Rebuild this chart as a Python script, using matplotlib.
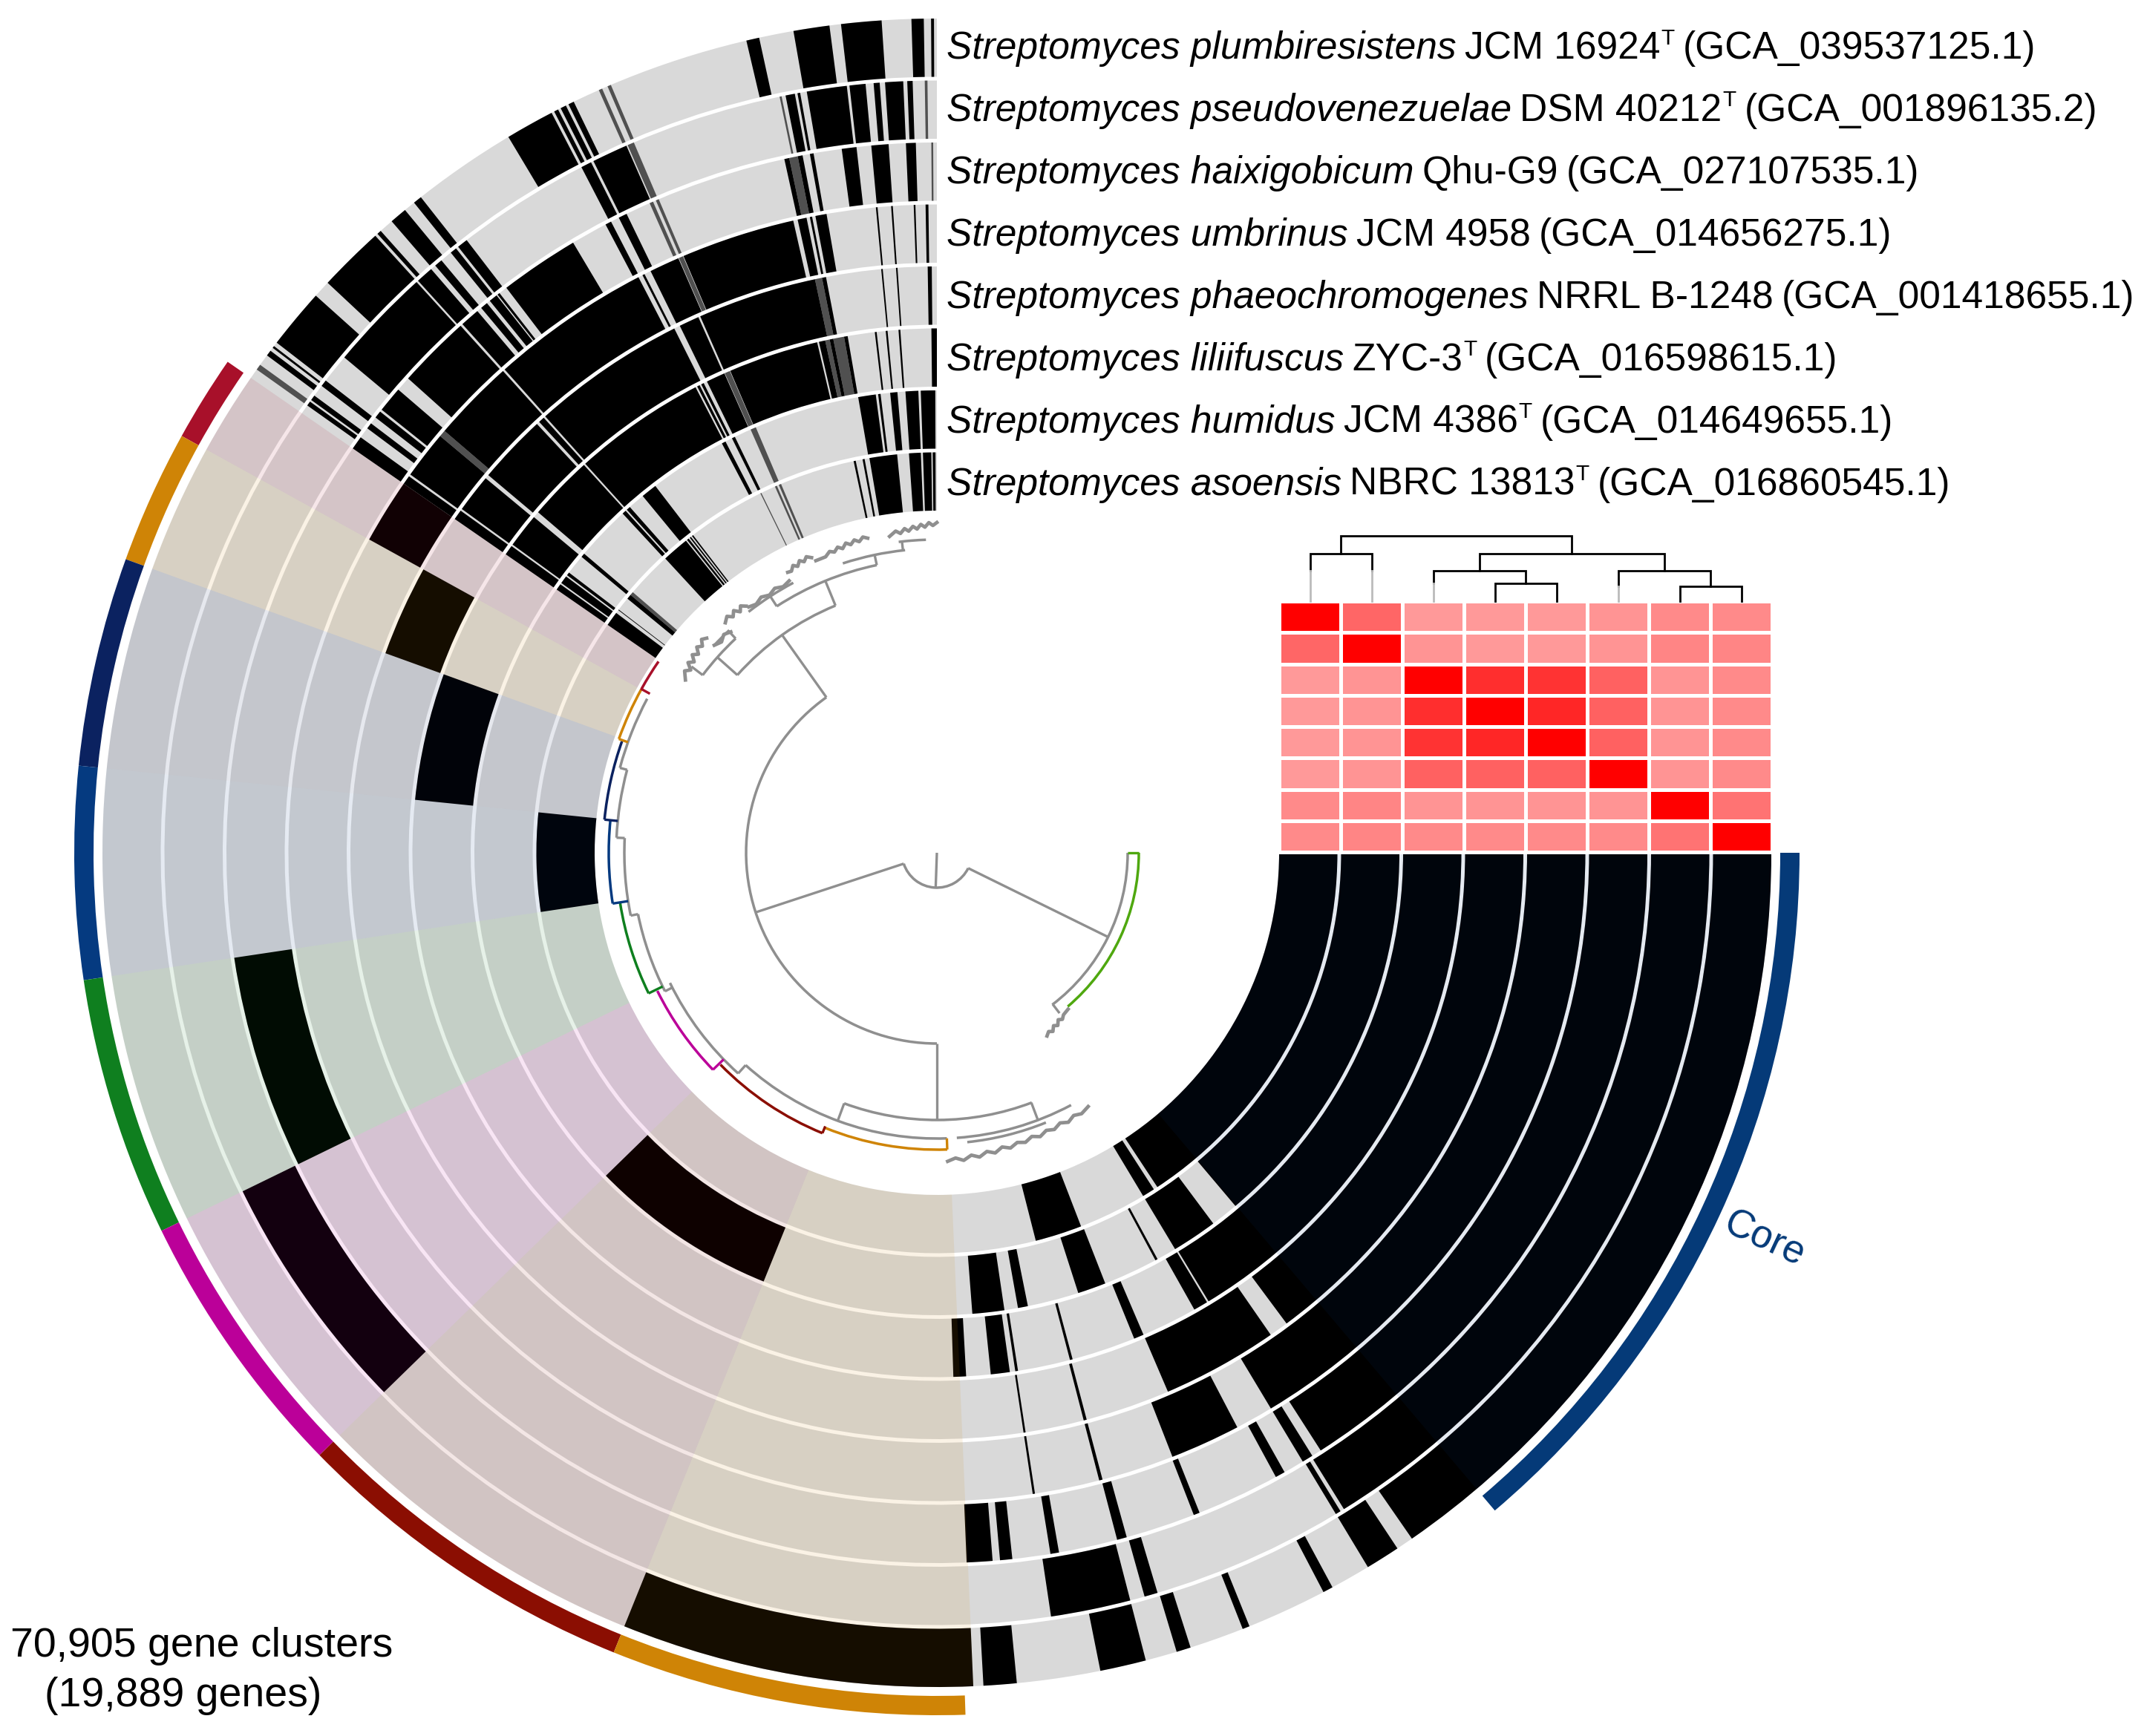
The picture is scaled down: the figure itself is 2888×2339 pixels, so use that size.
import numpy as np
import matplotlib
matplotlib.use('Agg')
import matplotlib.pyplot as plt
from matplotlib.colors import LinearSegmentedColormap

plt.rcParams['font.family'] = ['Liberation Sans', 'DejaVu Sans']

# genomes, outermost ring first: (italic name, strain, type strain?, accession)
genome_species = ['Streptomyces plumbiresistens', 'Streptomyces pseudovenezuelae', 'Streptomyces haixigobicum',
                  'Streptomyces umbrinus', 'Streptomyces phaeochromogenes', 'Streptomyces liliifuscus',
                  'Streptomyces humidus', 'Streptomyces asoensis']
genome_strain = ['JCM 16924', 'DSM 40212', 'Qhu-G9', 'JCM 4958', 'NRRL B-1248', 'ZYC-3', 'JCM 4386', 'NBRC 13813']
genome_type = [True, True, False, False, False, True, True, True]
genome_acc = ['GCA_039537125.1', 'GCA_001896135.2', 'GCA_027107535.1', 'GCA_014656275.1',
              'GCA_001418655.1', 'GCA_016598615.1', 'GCA_014649655.1', 'GCA_016860545.1']

# gene cluster presence per ring, read as angle ranges along the circle
ring0 = [(90.2, 90.4), (90.9, 91.75), (93.8, 96.6), (97.4, 99.9), (102.3, 103.2), (115.8, 116.2), (116.4, 116.8),
         (117, 117.3), (117.5, 120.9), (128.2, 128.8), (129.6, 130.8), (131.8, 132.1), (132.3, 136.9), (138.1, 142.3),
         (142.6, 142.75), (143, 143.4), (273.2, 275.5), (281.3, 284.5), (286.7, 287.7), (291.5, 292), (297.6, 298.3),
         (301.1, 303.5), (304.7, 360)]
ring1 = [(91.8, 92.2), (92.5, 93.85), (94.25, 94.7), (95.3, 96.5), (96.7, 99.7), (100.2, 100.4), (100.6, 101.3),
         (113.7, 116.4), (116.6, 117.4), (127.5, 128.3), (128.5, 129), (129.9, 130.5), (130.9, 132.2), (132.35, 140.1),
         (142.3, 142.8), (143.7, 144.1), (144.25, 144.6), (278.5, 284.5), (285.6, 286.6), (301.1, 301.5), (301.8, 360)]
ring2 = [(91.7, 92.5), (93.9, 95.3), (96.5, 97.7), (100, 100.3), (100.9, 101.3), (102, 102.4), (115.9, 116.6),
         (117.3, 117.8), (120.8, 127.3), (128, 128.2), (128.3, 129), (129.3, 129.9), (130.3, 131.9), (132.1, 138.1),
         (139.3, 141.4), (141.6, 142.2), (142.8, 143.3), (144.2, 145.3), (272.4, 274.5), (275.1, 276.1), (279.2, 279.9),
         (284.7, 285.5), (291.2, 291.7), (298.5, 299.3), (301, 301.9), (302.7, 360)]
ring3 = [(90.75, 91), (91.9, 92.05), (93.9, 94.05), (95.25, 95.4), (99.8, 100.8), (101.1, 101.3), (101.6, 102.4),
         (102.8, 113), (113.5, 116.2), (116.8, 117), (117.4, 131.8), (132, 139.4), (140, 144.3), (144.5, 145.3),
         (278.5, 278.7), (284.5, 284.8), (291.3, 297.6), (301, 360)]
ring4 = [(90.5, 90.9), (93.85, 94), (95.3, 95.45), (100.9, 101.3), (102, 113.8), (114, 116), (116.6, 131.9),
         (132.1, 132.7), (133, 139.9), (140.3, 144.1), (144.3, 145.3), (278.5, 278.7), (284.5, 284.8), (293.2, 304.7),
         (306.6, 360)]
ring5 = [(90, 90.6), (94, 94.2), (95.4, 95.6), (96.6, 96.8), (99.8, 100.2), (101.4, 101.8), (102.3, 103),
         (103.2, 113.2), (113.9, 116), (116.4, 116.7), (116.9, 117.2), (117.4, 132.1), (132.3, 139.5), (140.2, 144),
         (144.2, 145.3), (271.8, 273.2), (275.9, 278), (278.6, 278.9), (284.7, 285), (292.1, 293.2), (299.4, 301),
         (301.2, 360)]
ring6 = [(90.2, 92), (92.3, 93.9), (94.9, 95.8), (97, 97.3), (97.6, 99.8), (115.9, 116.3), (117.2, 117.7),
         (127.5, 129.5), (131.6, 132.1), (132.3, 132.8), (139.7, 140.2), (142.7, 143.1), (143.3, 144.3), (144.5, 145.3),
         (274.4, 278.4), (280.1, 281.35), (287.8, 291.35), (298.2, 298.5), (301, 306.7), (310.2, 360)]
ring7 = [(90.2, 90.6), (90.8, 92), (92.3, 94), (95.7, 99.7), (100.4, 100.7), (101.7, 102), (127.5, 127.7),
         (127.9, 128.1), (128.3, 128.6), (128.8, 132.7), (139.9, 140.6), (142.6, 142.7), (143.2, 145.3),
         (284.3, 291.1), (301, 302.8), (303.4, 360)]
rings = [ring0, ring1, ring2, ring3, ring4, ring5, ring6, ring7]

# finely alternating stretches that come out as mid grey
ring_dots = [[(113, 113.25), (113.65, 113.9), (144.2, 144.6)],
             [(90.7, 90.9), (101.6, 101.75), (113.1, 113.6)],
             [(90.3, 90.45), (101.3, 102), (113.05, 113.3), (113.55, 113.85)],
             [(113.05, 113.45), (139.4, 140)],
             [(101.3, 102)],
             [(100.2, 101.4), (101.8, 102.3), (113.25, 113.85)],
             [(113.05, 113.75)],
             [(112.9, 113.25), (113.55, 113.85), (116, 116.15), (139.4, 139.9)]]

# bins: edges along the circle, colour, and the one ring that holds the singletons
bin_edges = [145.3, 151.1, 160.1, 174.2, 188.5, 206, 224.3, 248, 272.5]
bin_colors = ['#A8102A', '#CF8406', '#0B2260', '#053A80', '#0F7F1F', '#BB0099', '#8B0E02', '#CF8406']
bin_rings = [3, 4, 5, 7, 2, 1, 6, 0]
core_span = (310.3, 360)
core_color = '#053A78'

# ANI style matrix above the rings
ani = [[1, .60, .40, .40, .40, .42, .46, .46],
       [.60, 1, .42, .40, .40, .42, .48, .48],
       [.40, .42, 1, .82, .80, .62, .42, .46],
       [.40, .42, .82, 1, .85, .62, .42, .46],
       [.40, .42, .80, .85, 1, .62, .42, .46],
       [.40, .42, .62, .62, .62, 1, .42, .46],
       [.46, .48, .42, .42, .42, .42, 1, .55],
       [.46, .48, .46, .46, .46, .46, .55, 1]]

# tree over the matrix: (left column, right column, height, height left child, height right child)
ani_tree = [(0, 1, 64, 41, 41), (3, 4, 24, 0, 0), (2, 3.5, 41, 24, 24), (6, 7, 20, 0, 0), (5, 6.5, 41, 20, 20),
            (2.75, 5.75, 64, 41, 41), (0.5, 4.25, 88, 64, 64)]

# gene cluster dendrogram: arcs (colour, radius, from, to), spokes (colour, angle, r from, r to)
GREY = '#8F8F8F'
tree_arcs = [(GREY, 47, 198.2, 333.8), (GREY, 257, 125.4, 270), (GREY, 257, 307.2, 360), ('#4FA80F', 272, 310.4, 360),
             (GREY, 360, 112.3, 138.3), (GREY, 396, 101.8, 123), (GREY, 410, 96, 108), (GREY, 422, 92, 97),
             (GREY, 412, 118, 128), (GREY, 396, 133.2, 142.8), (GREY, 410, 133, 137),
             (GREY, 360, 249.7, 290.8), (GREY, 385, 228, 272), (GREY, 385, 274, 298), (GREY, 392, 276, 292),
             (bin_colors[7], 400, 248, 272), (bin_colors[6], 408, 224.4, 247.8),
             (GREY, 400, 206, 228), (bin_colors[5], 420, 206.3, 224.1), (GREY, 411, 191.6, 207),
             (bin_colors[4], 432, 189, 206), (GREY, 421, 177.3, 191.6), (bin_colors[3], 442, 174.3, 188.9),
             (GREY, 432, 165, 177.3), (bin_colors[2], 450, 160.5, 174.3), (GREY, 442, 152, 165),
             (bin_colors[1], 455, 151, 160.3), (bin_colors[0], 455, 145.5, 151)]
tree_spokes = [(GREY, 268, 0, 47), (GREY, 198.2, 47, 257), (GREY, 333.8, 47, 257), (GREY, 125.4, 257, 360),
               (GREY, 270, 257, 360), ('#4FA80F', 360, 257, 272), (GREY, 307.4, 257, 272),
               (GREY, 112.3, 360, 396), (GREY, 138.3, 360, 396), (GREY, 101.8, 396, 410), (GREY, 123, 396, 412),
               (GREY, 96.4, 410, 422), (GREY, 133.2, 396, 410), (GREY, 142.8, 396, 415),
               (GREY, 249.7, 360, 385), (GREY, 290.7, 360, 385), (bin_colors[7], 272, 385, 400),
               (bin_colors[6], 247.8, 398, 408), (GREY, 228, 385, 400), (bin_colors[5], 224.1, 400, 420),
               (GREY, 207, 400, 411), (bin_colors[4], 206, 411, 432), (GREY, 191.6, 411, 421),
               (bin_colors[3], 188.9, 421, 442), (GREY, 177.3, 421, 432), (bin_colors[2], 174.3, 432, 450),
               (GREY, 165, 432, 442), (bin_colors[1], 160.3, 442, 455), (bin_colors[0], 151, 442, 456)]
# fuzzy leaf clumps, each a run of (angle, radius)
clump_a = [(90, 445), (90.7, 441), (91.4, 445), (92.1, 439), (92.8, 443), (93.5, 437), (94.2, 441), (95, 435),
           (95.7, 439), (96.5, 433), (97.3, 437), (98.5, 431)]
clump_b = [(102.4, 434), (103.2, 437), (104, 432), (104.8, 436), (105.6, 431), (106.4, 435), (107.2, 429),
           (108, 433), (108.8, 428), (109.6, 431), (110.6, 426), (112.5, 426)]
clump_c = [(113, 432), (113.8, 436), (114.5, 431), (115.2, 435), (115.9, 429), (116.6, 433), (117.3, 427), (118, 428)]
clump_d = [(118.5, 417), (120, 414), (121.5, 418), (123, 414), (124.5, 418), (126, 414), (127.4, 417)]
clump_e = [(127.7, 420), (128.5, 425), (129.2, 419), (130, 426), (130.8, 420), (131.6, 426), (132.6, 421)]
clump_f = [(133, 407), (134.3, 411), (135.6, 406), (137, 410)]
clump_g = [(137, 424), (137.8, 428), (138.6, 421), (139.4, 426), (140.2, 418), (141, 424), (141.8, 416),
           (142.6, 422), (143.4, 413), (144.2, 419), (145.5, 411)]
clump_h = [(272, 416), (273.5, 412), (275, 416), (276.5, 410), (278, 414), (279.5, 408), (281, 412), (282.5, 406),
           (284, 410), (285.5, 405), (287, 408), (288.5, 403), (290, 407), (291.5, 402), (293, 405), (294.5, 400),
           (296, 404), (297.5, 399), (299, 402), (300.8, 398)]
clump_i = [(301, 288), (302, 284), (303, 287), (304, 281), (305, 284), (306, 278), (307, 281), (308, 277), (310, 275)]
tree_clumps = [clump_a, clump_b, clump_c, clump_d, clump_e, clump_f, clump_g, clump_h, clump_i]

title_lines = ['70,905 gene clusters', '(19,889 genes)']

# layout in pixels of the 2888x2339 figure
W, H = 2888, 2339
CX, CY = 1262, 1149
R_MAX = 1180
R_IN = 461
RING_STEP = 83.5
RING_H = 78.5

fig = plt.figure(figsize=(W / 100, H / 100), dpi=100)
pax = fig.add_axes([(CX - R_MAX) / W, 1 - (CY + R_MAX) / H, 2 * R_MAX / W, 2 * R_MAX / H], projection='polar')
pax.set_ylim(0, R_MAX)
pax.axis('off')


def wedge(t0, t1, r0, h, **kw):
    a, b = np.deg2rad(t0), np.deg2rad(t1)
    pax.bar((a + b) / 2, h, width=b - a, bottom=r0, linewidth=0, **kw)


for i, spans in enumerate(rings):
    r0 = R_IN + RING_STEP * (7 - i)
    wedge(90, 360, r0, RING_H, color='#D9D9D9')
    for t0, t1 in ring_dots[i]:
        wedge(t0, t1, r0, RING_H, color='#505050')
    for t0, t1 in spans:
        wedge(t0, t1, r0, RING_H, color='black')
    # singletons of the bin that belongs to this ring
    for k, ring in enumerate(bin_rings):
        if ring == i:
            wedge(bin_edges[k], bin_edges[k + 1], r0, RING_H, color='black')

ring_span = RING_STEP * 8 - 5
for k, c in enumerate(bin_colors):
    wedge(bin_edges[k], bin_edges[k + 1], R_IN, ring_span, color=c, alpha=.1)
    bar_end = bin_edges[k + 1] - (0.6 if k == len(bin_colors) - 1 else 0)
    wedge(bin_edges[k], bar_end, 1136, 26, color=c)
wedge(core_span[0], core_span[1], R_IN, ring_span, color=core_color, alpha=.1)
wedge(core_span[0], core_span[1], 1136, 26, color=core_color)

# dendrogram in the middle
for c, r, t0, t1 in tree_arcs:
    wedge(t0, t1, r - 1.75, 3.5, color=c)
for c, t, r0, r1 in tree_spokes:
    pax.plot(np.deg2rad([t, t]), [r0, r1], color=c, lw=2.4, solid_capstyle='butt')
for clump in tree_clumps:
    ts, rs = zip(*clump)
    pax.plot(np.deg2rad(ts), rs, color=GREY, lw=3.4)
pax.set_ylim(0, R_MAX)

# everything below is in plain figure pixels
ax = fig.add_axes([0, 0, 1, 1], facecolor='none')
ax.set_xlim(0, W)
ax.set_ylim(H, 0)
ax.axis('off')

HM_X0, HM_STEP = 1723, 83
HM_Y0, HM_ROW = 810, 42.25
x_edges = HM_X0 + HM_STEP * np.arange(9)
y_edges = HM_Y0 + HM_ROW * np.arange(9)
reds = LinearSegmentedColormap.from_list('reds', ['white', '#FF0000'])
ax.pcolormesh(x_edges, y_edges, np.array(ani), cmap=reds, vmin=0, vmax=1, edgecolors='white', linewidth=3.5)


def col_x(c):
    return HM_X0 + HM_STEP * (c + .5)


for left, right, h, h_l, h_r in ani_tree:
    x_l, x_r = col_x(left), col_x(right)
    ax.plot([x_l, x_l, x_r, x_r], [HM_Y0 - h_l, HM_Y0 - h, HM_Y0 - h, HM_Y0 - h_r],
            color='black', lw=2, solid_joinstyle='miter')
# pale stubs where a leaf is not joined right away
for c, top in [(0, 41), (1, 41), (2, 24), (5, 20)]:
    ax.plot([col_x(c), col_x(c)], [HM_Y0 - top, HM_Y0], color='#BBBBBB', lw=2)

FS = 37.1
renderer = fig.canvas.get_renderer()


def put(x, y, s, **kw):
    t = ax.text(x, y, s, va='baseline', ha='left', color='black', **kw)
    return x + t.get_window_extent(renderer).width


for i in range(8):
    y = 79.5 + 83.9 * i
    x = put(1275, y, genome_species[i], fontsize=FS, style='italic')
    x = put(x + 11, y, genome_strain[i], fontsize=FS)
    if genome_type[i]:
        x = put(x + 1, y - 20, 'T', fontsize=FS * .58)
    put(x + 11, y, '(' + genome_acc[i] + ')', fontsize=FS)

ax.text(272, 2232, title_lines[0], fontsize=40, ha='center', va='baseline')
ax.text(247, 2299, title_lines[1], fontsize=40, ha='center', va='baseline')
ax.text(2376, 1670, 'Core', fontsize=38, color=core_color, rotation=-25, ha='center', va='center',
        rotation_mode='anchor')

fig.savefig('out.png', dpi=100)
